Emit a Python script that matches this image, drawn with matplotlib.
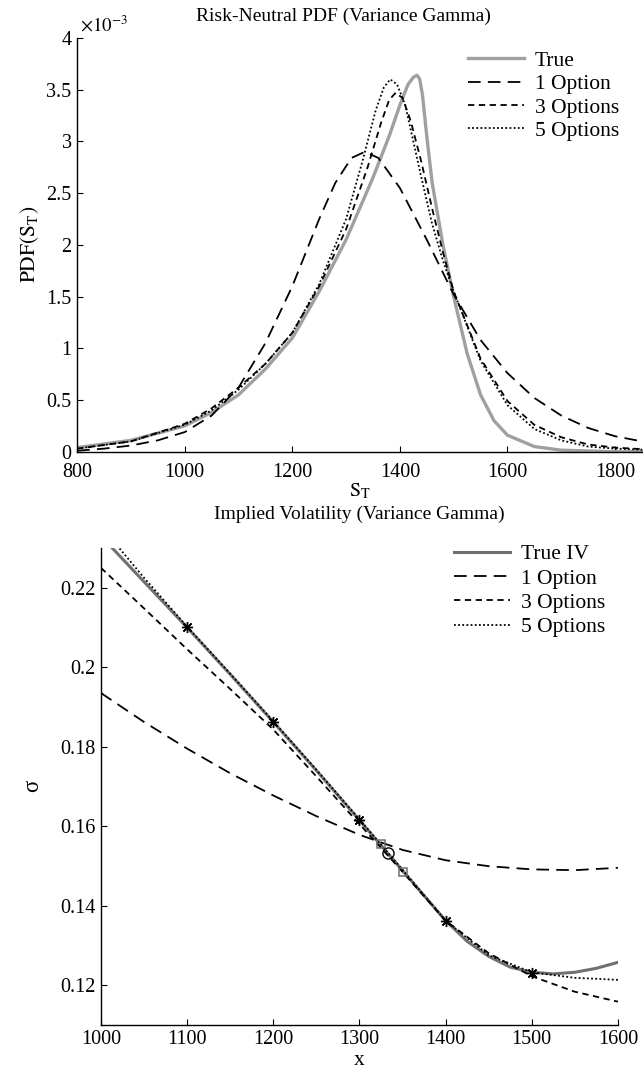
import matplotlib
matplotlib.use("Agg")
import matplotlib.pyplot as plt
from matplotlib.ticker import FuncFormatter, MultipleLocator

plt.rcParams['font.family'] = 'serif'
plt.rcParams['font.serif'] = ['Liberation Serif', 'DejaVu Serif']
plt.rcParams['mathtext.fontset'] = 'stix'

# ---------------- Top panel data: risk-neutral PDF ----------------
st_true = [800, 900, 1000, 1050, 1100, 1150, 1200, 1250, 1300, 1350, 1380, 1400, 1415, 1425, 1432,
           1437, 1442, 1450, 1460, 1480, 1500, 1525, 1550, 1575, 1600, 1650, 1700, 1800, 1900]
pdf_true = [0.04e-3, 0.11e-3, 0.25e-3, 0.38e-3, 0.55e-3, 0.80e-3, 1.10e-3, 1.55e-3, 2.05e-3, 2.65e-3,
            3.05e-3, 3.35e-3, 3.55e-3, 3.62e-3, 3.64e-3, 3.60e-3, 3.45e-3, 3.05e-3, 2.60e-3, 2.00e-3,
            1.50e-3, 0.95e-3, 0.55e-3, 0.30e-3, 0.16e-3, 0.05e-3, 0.015e-3, 0.0, 0.0]

st_1opt = [800, 850, 900, 950, 1000, 1050, 1100, 1150, 1200, 1250, 1280, 1310, 1335, 1360, 1400,
           1450, 1500, 1550, 1600, 1650, 1700, 1750, 1800, 1850, 1900]
pdf_1opt = [0.01e-3, 0.03e-3, 0.06e-3, 0.11e-3, 0.19e-3, 0.35e-3, 0.62e-3, 1.05e-3, 1.60e-3, 2.25e-3,
            2.60e-3, 2.84e-3, 2.90e-3, 2.84e-3, 2.55e-3, 2.05e-3, 1.52e-3, 1.08e-3, 0.76e-3, 0.52e-3,
            0.35e-3, 0.23e-3, 0.15e-3, 0.10e-3, 0.06e-3]

st_3opt = [800, 900, 1000, 1050, 1100, 1150, 1200, 1250, 1300, 1340, 1365, 1380, 1392, 1405, 1420,
           1440, 1460, 1480, 1500, 1550, 1600, 1650, 1700, 1750, 1800, 1900]
pdf_3opt = [0.03e-3, 0.10e-3, 0.27e-3, 0.42e-3, 0.62e-3, 0.85e-3, 1.15e-3, 1.60e-3, 2.15e-3, 2.75e-3,
            3.18e-3, 3.40e-3, 3.47e-3, 3.42e-3, 3.20e-3, 2.80e-3, 2.35e-3, 1.93e-3, 1.55e-3, 0.90e-3,
            0.49e-3, 0.26e-3, 0.14e-3, 0.07e-3, 0.04e-3, 0.01e-3]

st_5opt = [800, 900, 1000, 1050, 1100, 1150, 1200, 1250, 1300, 1330, 1355, 1370, 1382, 1395, 1410,
           1425, 1440, 1460, 1480, 1500, 1550, 1600, 1650, 1700, 1750, 1800, 1900]
pdf_5opt = [0.03e-3, 0.10e-3, 0.26e-3, 0.40e-3, 0.60e-3, 0.85e-3, 1.15e-3, 1.62e-3, 2.25e-3, 2.80e-3,
            3.30e-3, 3.52e-3, 3.60e-3, 3.55e-3, 3.35e-3, 3.00e-3, 2.65e-3, 2.20e-3, 1.85e-3, 1.55e-3,
            0.88e-3, 0.45e-3, 0.22e-3, 0.11e-3, 0.05e-3, 0.03e-3, 0.01e-3]

# ---------------- Bottom panel data: implied volatility ----------------
k_true = [1000, 1050, 1100, 1150, 1200, 1250, 1300, 1350, 1400, 1425, 1450, 1475, 1500, 1525, 1550, 1575, 1600]
iv_true = [0.2330, 0.2215, 0.2100, 0.1982, 0.1862, 0.1740, 0.1615, 0.1488, 0.1362, 0.1310, 0.1272,
           0.1245, 0.1232, 0.1228, 0.1232, 0.1242, 0.1257]

k_1opt = [1000, 1050, 1100, 1150, 1200, 1250, 1300, 1350, 1400, 1450, 1500, 1550, 1600]
iv_1opt = [0.1935, 0.1862, 0.1795, 0.1733, 0.1677, 0.1625, 0.1578, 0.1540, 0.1514, 0.1499, 0.1491,
           0.1489, 0.1495]

k_3opt = [1000, 1050, 1100, 1150, 1200, 1250, 1300, 1350, 1400, 1450, 1500, 1550, 1600]
iv_3opt = [0.2250, 0.2148, 0.2045, 0.1945, 0.1843, 0.1725, 0.1605, 0.1485, 0.1362, 0.1280, 0.1222,
           0.1183, 0.1158]

k_5opt = [1000, 1050, 1100, 1150, 1200, 1250, 1300, 1350, 1400, 1450, 1500, 1550, 1600]
iv_5opt = [0.2355, 0.2225, 0.2102, 0.1984, 0.1864, 0.1742, 0.1617, 0.1490, 0.1362, 0.1275, 0.1232,
           0.1218, 0.1213]

star_k = [1100, 1200, 1300, 1400, 1500]
star_iv = [0.2100, 0.1862, 0.1615, 0.1360, 0.1230]
square_k = [1325, 1350]
square_iv = [0.1555, 0.1485]
circle_k = [1333]
circle_iv = [0.1532]

fs = 14.5
lfs = 15.5
tfs = 14
fig = plt.figure(figsize=(6.43, 10.73), dpi=100)

# ---------------- Top axes ----------------
ax1 = fig.add_axes([0.120, 0.5790, 0.880, 0.3856])
ax1.plot(st_true, pdf_true, color='#a0a0a0', lw=2.4, label='True')
ax1.plot(st_1opt, pdf_1opt, color='black', lw=1.3, dashes=(7, 4), label='1 Option')
ax1.plot(st_3opt, pdf_3opt, color='black', lw=1.3, dashes=(3.5, 2.5), label='3 Options')
ax1.plot(st_5opt, pdf_5opt, color='black', lw=1.3, dashes=(1, 1.3), label='5 Options')
ax1.set_xlim(800, 1852)
ax1.set_ylim(0, 4e-3)
ax1.set_xticks([800, 1000, 1200, 1400, 1600, 1800])
ax1.yaxis.set_major_locator(MultipleLocator(0.5e-3))
ax1.yaxis.set_major_formatter(FuncFormatter(lambda v, p: f"{v*1e3:g}"))
ax1.text(0.005, 1.005, r'$\times10^{-3}$', transform=ax1.transAxes, ha='left', va='bottom',
         fontsize=fs - 1)
ax1.set_title('Risk-Neutral PDF (Variance Gamma)', fontsize=tfs, pad=12, x=0.47)
ax1.set_xlabel(r'$\mathrm{S_T}$', fontsize=fs, labelpad=0)
ax1.set_ylabel(r'$\mathrm{PDF(S_T)}$', fontsize=fs + 1, labelpad=4)
ax1.legend(loc='upper right', bbox_to_anchor=(0.98, 1.0), frameon=False, fontsize=lfs,
           handlelength=2.6, handletextpad=0.5, labelspacing=0.15, borderaxespad=0.2)

# ---------------- Bottom axes ----------------
ax2 = fig.add_axes([0.157, 0.0450, 0.804, 0.4443])
ax2.plot(k_true, iv_true, color='#707070', lw=2.2, label='True IV')
ax2.plot(k_1opt, iv_1opt, color='black', lw=1.3, dashes=(7, 4), label='1 Option')
ax2.plot(k_3opt, iv_3opt, color='black', lw=1.3, dashes=(3.5, 2.5), label='3 Options')
ax2.plot(k_5opt, iv_5opt, color='black', lw=1.3, dashes=(1, 1.3), label='5 Options')
ax2.plot(star_k, star_iv, linestyle='none', marker=(8, 2, 0), markersize=8, color='black',
         markeredgewidth=1.0)
ax2.plot(square_k, square_iv, linestyle='none', marker='s', markersize=6, markerfacecolor='none',
         markeredgecolor='#707070', markeredgewidth=1.1)
ax2.plot(circle_k, circle_iv, linestyle='none', marker='o', markersize=8, markerfacecolor='none',
         markeredgecolor='black', markeredgewidth=1.0)
ax2.set_xlim(1000, 1600)
ax2.set_ylim(0.11, 0.23)
ax2.set_xticks([1000, 1100, 1200, 1300, 1400, 1500, 1600])
ax2.set_yticks([0.12, 0.14, 0.16, 0.18, 0.20, 0.22])
ax2.yaxis.set_major_formatter(FuncFormatter(lambda v, p: f"{v:g}"))
ax2.set_title('Implied Volatility (Variance Gamma)', fontsize=tfs, pad=21)
ax2.set_xlabel('x', fontsize=fs + 1, labelpad=1)
ax2.set_ylabel('σ', fontsize=fs + 2, labelpad=12)
ax2.legend(loc='upper right', bbox_to_anchor=(1.0, 1.035), frameon=False, fontsize=lfs,
           handlelength=2.6, handletextpad=0.5, labelspacing=0.2, borderaxespad=0.2)

for ax in (ax1, ax2):
    ax.spines['top'].set_visible(False)
    ax.spines['right'].set_visible(False)
    ax.spines['left'].set_linewidth(1.0)
    ax.spines['bottom'].set_linewidth(1.0)
    ax.tick_params(direction='in', length=4, width=0.8, labelsize=fs, pad=4)
ax1.tick_params(axis='x', pad=8)

fig.savefig('out.png', dpi=100)
